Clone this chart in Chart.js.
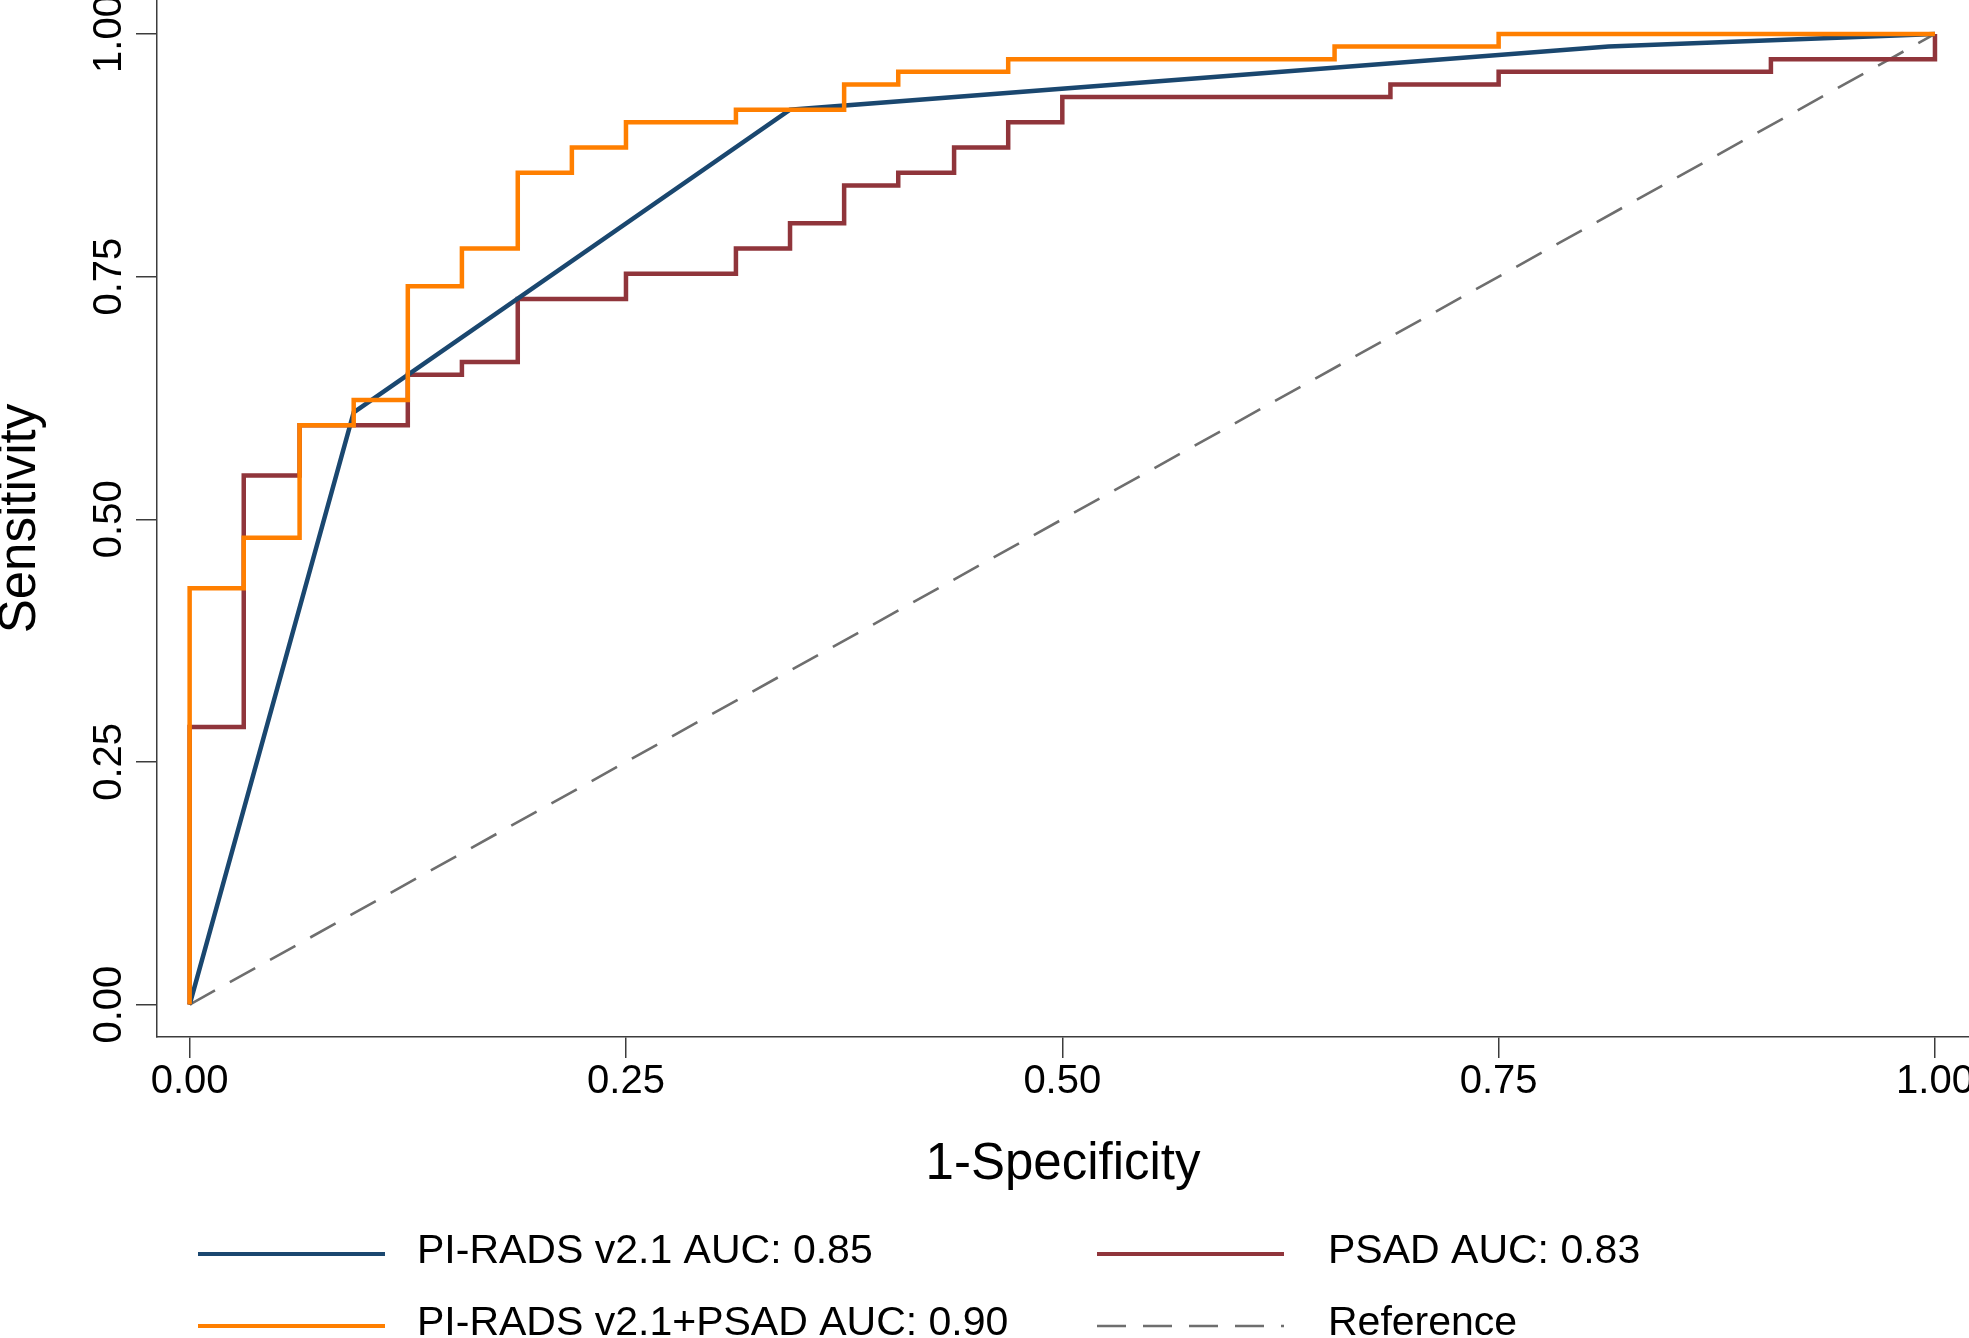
<!DOCTYPE html>
<html>
  <head>
    <meta charset="utf-8">
    <title>ROC curves</title>
    <script src="https://cdn.jsdelivr.net/npm/chart.js@4.4.1/dist/chart.umd.min.js"></script>
    <style>
      body { margin: 0; background: #fff; }
      #wrap { width: 1969px; height: 1338px; }
    </style>
  </head>
  <body>
  <div id="wrap"><canvas id="rocChart"></canvas></div>
  <script>
    // values (x = 1-specificity, y = sensitivity)
    const tickValues = [0, 0.25, 0.5, 0.75, 1];

    const piradsFpr = [0, 0.094, 0.344, 0.813, 1];
    const piradsTpr = [0, 0.610, 0.922, 0.987, 1];

    // step curves: each point is the top of a vertical jump
    const comboFpr = [0, 0, 0.031, 0.063, 0.094, 0.125, 0.156, 0.188, 0.219, 0.25, 0.313, 0.375, 0.406, 0.469, 0.656, 0.75, 1];
    const comboTpr = [0, 0.429, 0.481, 0.597, 0.623, 0.740, 0.779, 0.857, 0.883, 0.909, 0.922, 0.948, 0.961, 0.974, 0.987, 1, 1];

    const psadFpr = [0, 0, 0.031, 0.063, 0.125, 0.156, 0.188, 0.25, 0.313, 0.344, 0.375, 0.406, 0.438, 0.469, 0.5, 0.688, 0.75, 0.906, 1];
    const psadTpr = [0, 0.286, 0.545, 0.597, 0.649, 0.662, 0.727, 0.753, 0.779, 0.805, 0.844, 0.857, 0.883, 0.909, 0.935, 0.948, 0.961, 0.974, 1];

    const refFpr = [0, 1];
    const refTpr = [0, 1];

    const seriesLabels = ['PI-RADS v2.1 AUC: 0.85', 'PI-RADS v2.1+PSAD AUC: 0.90', 'PSAD AUC: 0.83', 'Reference'];

    const FONT = "'Liberation Sans', Arial, sans-serif";
    const AXIS = '#3c3c3c';

    function toPoints(xs, ys) {
      return xs.map((x, i) => ({ x: x, y: ys[i] }));
    }

    // legend drawn in two columns like the original
    const legendSlots = [
      { ds: 0, lx: 198, tx: 417, y: 1254 },
      { ds: 2, lx: 1097, tx: 1328, y: 1254 },
      { ds: 1, lx: 198, tx: 417, y: 1326 },
      { ds: 3, lx: 1097, tx: 1328, y: 1326 }
    ];

    const rocLegend = {
      id: 'rocLegend',
      afterDraw(chart) {
        const ctx = chart.ctx;
        ctx.save();
        legendSlots.forEach(slot => {
          const ds = chart.data.datasets[slot.ds];
          ctx.beginPath();
          ctx.setLineDash(ds.borderDash || []);
          ctx.strokeStyle = ds.borderColor;
          ctx.lineWidth = ds.borderDash ? 2.6 : 4;
          ctx.moveTo(slot.lx, slot.y);
          ctx.lineTo(slot.lx + 187, slot.y);
          ctx.stroke();
          ctx.setLineDash([]);
          ctx.fillStyle = '#000';
          ctx.font = '41px ' + FONT;
          ctx.textBaseline = 'middle';
          ctx.textAlign = 'left';
          ctx.fillText(ds.label, slot.tx, slot.y - 2);
        });
        ctx.restore();
      }
    };

    const ctx = document.getElementById('rocChart').getContext('2d');
    const rocChart = new Chart(ctx, {
      type: 'line',
      data: {
        datasets: [
          { label: seriesLabels[0], data: toPoints(piradsFpr, piradsTpr), borderColor: '#1a476f', borderWidth: 4.5, order: 2 },
          { label: seriesLabels[1], data: toPoints(comboFpr, comboTpr), borderColor: '#ff7f00', borderWidth: 4.5, stepped: 'before', order: 1 },
          { label: seriesLabels[2], data: toPoints(psadFpr, psadTpr), borderColor: '#90353b', borderWidth: 4.5, stepped: 'before', order: 3 },
          { label: seriesLabels[3], data: toPoints(refFpr, refTpr), borderColor: '#6e6e6e', borderWidth: 2.6, borderDash: [29, 17], order: 4 }
        ]
      },
      options: {
        responsive: true,
        maintainAspectRatio: false,
        animation: false,
        devicePixelRatio: 1,
        layout: { padding: 0 },
        elements: {
          point: { radius: 0, hoverRadius: 0 },
          line: { tension: 0, fill: false, borderJoinStyle: 'miter', borderCapStyle: 'butt' }
        },
        plugins: {
          legend: { display: false },
          tooltip: { enabled: false }
        },
        scales: {
          x: {
            type: 'linear',
            min: -0.0187,
            max: 1.0195,
            afterBuildTicks: s => { s.ticks = tickValues.map(v => ({ value: v })); },
            afterFit: s => { s.height = 301; s.paddingLeft = 0; s.paddingRight = 0; },
            ticks: {
              color: '#000',
              padding: 0,
              maxRotation: 0,
              font: { family: FONT, size: 40, lineHeight: 1.2 },
              callback: v => v.toFixed(2)
            },
            grid: { drawOnChartArea: false, drawTicks: true, tickLength: 21, color: AXIS, lineWidth: 1.5 },
            border: { display: true, color: AXIS, width: 1.5 },
            title: {
              display: true,
              text: '1-Specificity',
              color: '#000',
              font: { family: FONT, size: 51, lineHeight: 1.2 },
              padding: { top: 0, bottom: 142 }
            }
          },
          y: {
            type: 'linear',
            min: -0.0334,
            max: 1.035,
            afterBuildTicks: s => { s.ticks = tickValues.map(v => ({ value: v })); },
            afterFit: s => { s.width = 157; s.paddingTop = 0; s.paddingBottom = 0; },
            ticks: {
              color: '#000',
              padding: -13,
              minRotation: 90,
              maxRotation: 90,
              crossAlign: 'center',
              font: { family: FONT, size: 40, lineHeight: 1.2 },
              callback: v => v.toFixed(2)
            },
            grid: { drawOnChartArea: false, drawTicks: true, tickLength: 21, color: AXIS, lineWidth: 1.5 },
            border: { display: true, color: AXIS, width: 1.5 },
            title: {
              display: true,
              text: 'Sensitivity',
              color: '#000',
              font: { family: FONT, size: 51, lineHeight: 1.2 },
              padding: { top: -10, bottom: 0 }
            }
          }
        }
      },
      plugins: [rocLegend]
    });
  </script>
  </body>
</html>
